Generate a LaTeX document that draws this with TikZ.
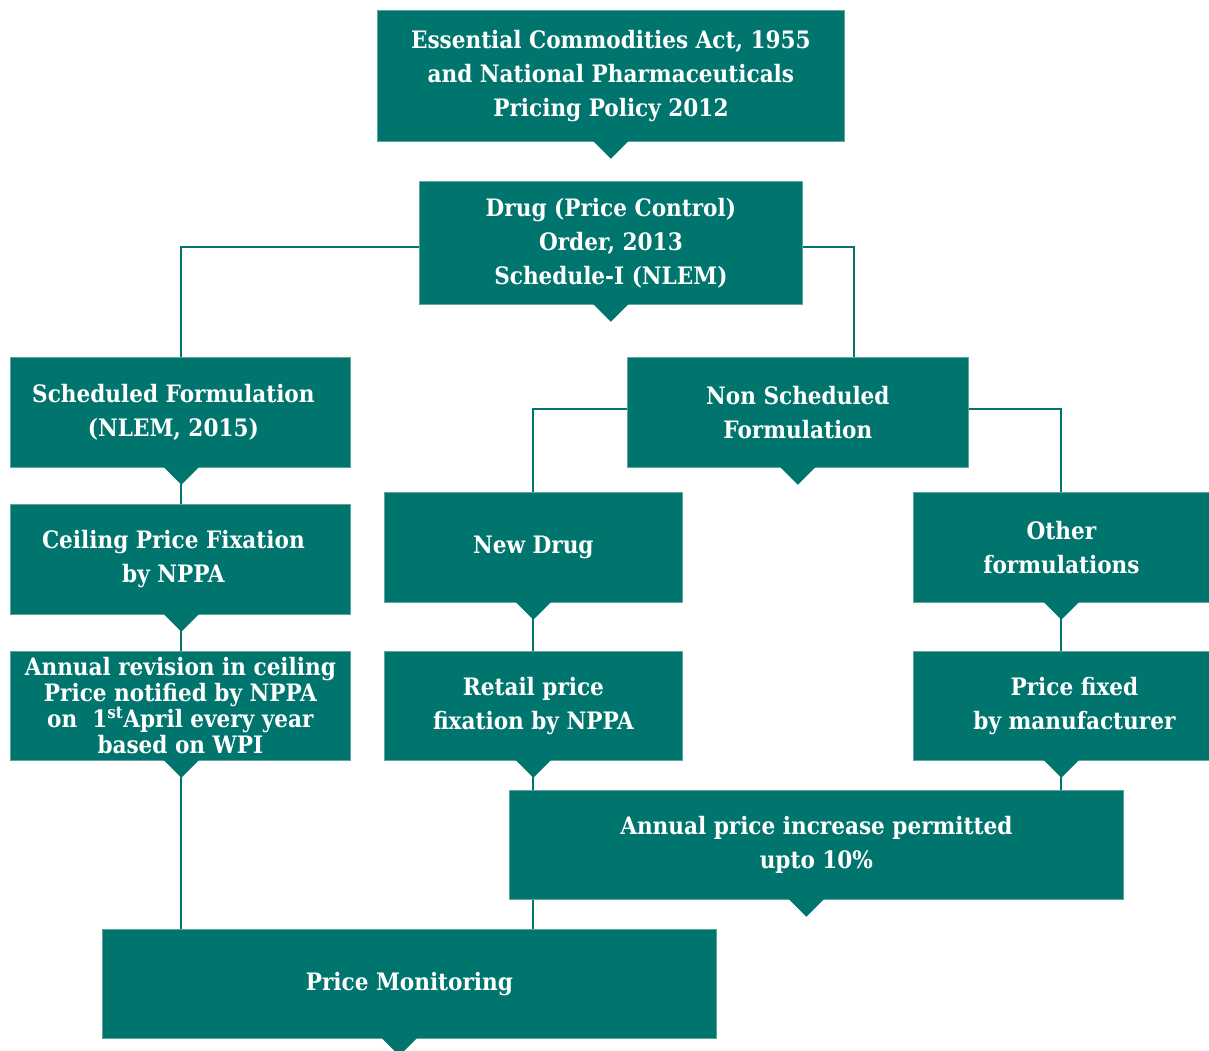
\documentclass[tikz,border=0pt]{standalone}
\usepackage{fontspec}
\setmainfont{DejaVu Serif Condensed}
\usetikzlibrary{calc}
\definecolor{npteal}{RGB}{0,117,110}
\definecolor{npedge}{RGB}{95,165,158}
\begin{document}
\begin{tikzpicture}[x=1pt,y=-1pt,
  box/.style={fill=npteal,draw=npedge,line width=.8pt,text=white,font=\bfseries\fontsize{24}{34}\selectfont,align=center,inner sep=0pt,anchor=north west},
  link/.style={draw=npteal,line width=2pt}]
\useasboundingbox (0,0) rectangle (1209,1051);
% boxes, top to bottom
\node[box,minimum width=467,minimum height=131](act)at(377,10){Essential Commodities Act, 1955\\and National Pharmaceuticals\\Pricing Policy 2012};
\node[box,minimum width=383,minimum height=123](dpco)at(419,181){Drug (Price Control)\\Order, 2013\\Schedule-I (NLEM)};
\node[box,minimum width=340,minimum height=110](sched)at(10,357){Scheduled Formulation\hspace*{14pt}\\(NLEM, 2015)\hspace*{14pt}};
\node[box,minimum width=341,minimum height=110](nonsch)at(627,357){Non Scheduled\\Formulation};
\node[box,minimum width=340,minimum height=110](ceil)at(10,504){Ceiling Price Fixation\hspace*{14pt}\\by NPPA\hspace*{14pt}};
\node[box,minimum width=340,minimum height=109,font=\bfseries\fontsize{24}{26}\selectfont](revis)at(10,651){Annual revision in ceiling\\Price notified by NPPA\\on~~1\textsuperscript{st}April every year\\based on WPI};
\node[box,minimum width=298,minimum height=110](newdrug)at(384,492){New Drug};
\node[box,minimum width=296,minimum height=110](other)at(913,492){Other\\formulations};
\node[box,minimum width=298,minimum height=109](retail)at(384,651){Retail price\\fixation by NPPA};
\node[box,minimum width=296,minimum height=109](fixed)at(913,651){\hspace*{26pt}Price fixed\\\hspace*{26pt}by manufacturer};
\node[box,minimum width=614,minimum height=109](incr)at(509,790){Annual price increase permitted\\upto 10\%};
\node[box,minimum width=614,minimum height=109](monit)at(102,929){Price Monitoring};
% notches under each box
\foreach \n/\d in {act/0,dpco/0,sched/1,nonsch/0,ceil/1,revis/1,newdrug/0,other/0,retail/0,fixed/0,incr/-10,monit/-10}
  \fill[npteal]($(\n.south)+(\d-17.5,-.6)$)--($(\n.south)+(\d,17)$)--($(\n.south)+(\d+17.5,-.6)$)--cycle;
% connectors
\coordinate(leftdrop)at($(revis.south)+(1,0)$);
\draw[link]($(dpco.west)+(0,4)$)-|($(sched.north)+(1,0)$);
\draw[link]($(dpco.east)+(0,4)$)-|($(nonsch.north)+(56,0)$);
\draw[link]($(nonsch.west)+(0,-3)$)-|(newdrug.north);
\draw[link]($(nonsch.east)+(0,-3)$)-|(other.north);
\draw[link]($(sched.south)+(1,0)$)--($(ceil.north)+(1,0)$);
\draw[link]($(ceil.south)+(1,0)$)--($(revis.north)+(1,0)$);
\draw[link](leftdrop)--(leftdrop|-monit.north);
\draw[link](newdrug.south)--(retail.north);
\draw[link](other.south)--(fixed.north);
\draw[link](retail.south)--(retail.south|-incr.north);
\draw[link](fixed.south)--(fixed.south|-incr.north);
\draw[link](retail.south|-incr.south)--(retail.south|-monit.north);
\end{tikzpicture}
\end{document}
